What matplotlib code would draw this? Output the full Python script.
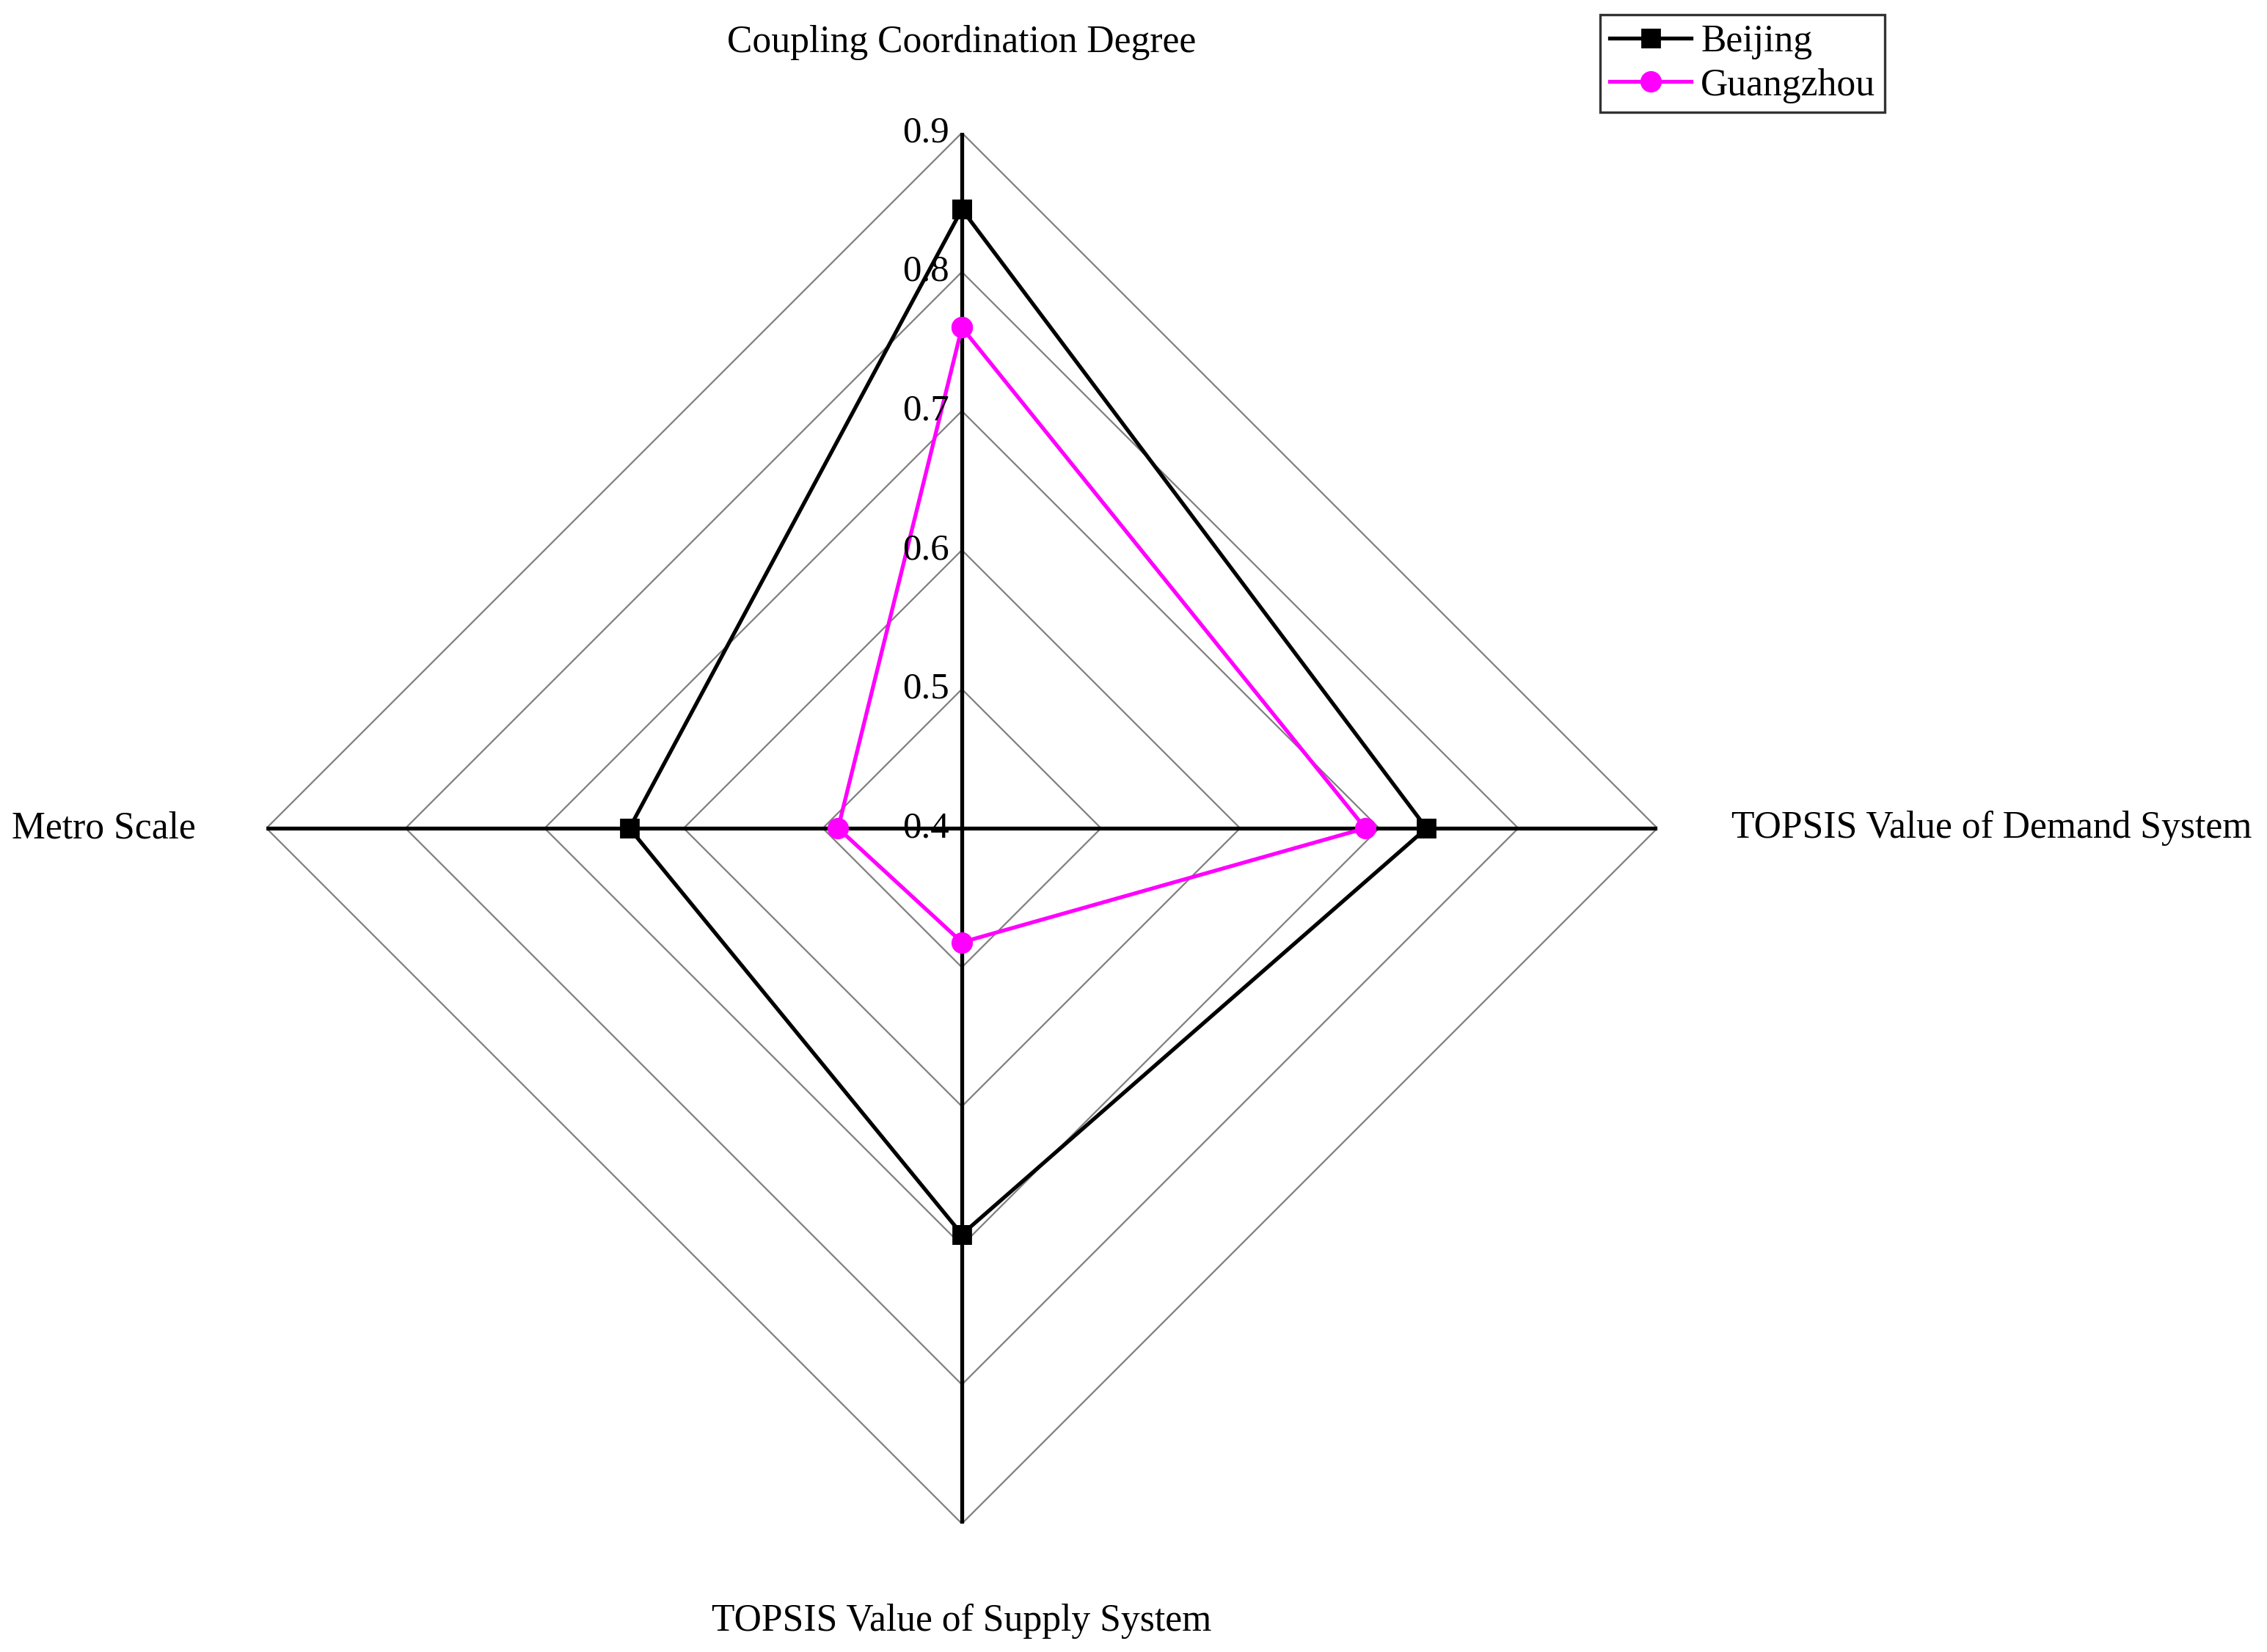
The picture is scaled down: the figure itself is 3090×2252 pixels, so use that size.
import numpy as np
import matplotlib
matplotlib.use('Agg')
import matplotlib.pyplot as plt
from matplotlib.transforms import ScaledTranslation

plt.rcParams['font.family'] = ['Liberation Serif', 'DejaVu Serif']

# data
categories = ['Coupling Coordination Degree', 'TOPSIS Value of Demand System',
              'TOPSIS Value of Supply System', 'Metro Scale']
beijing = [0.845, 0.734, 0.692, 0.639]
guangzhou = [0.760, 0.690, 0.482, 0.489]
levels = [0.5, 0.6, 0.7, 0.8, 0.9]
tick_labels = ['0.4', '0.5', '0.6', '0.7', '0.8', '0.9']
rmin, rmax = 0.4, 0.9

angles = np.arange(len(categories)) * 2 * np.pi / len(categories)
closed = np.append(angles, angles[0])

fig = plt.figure(figsize=(15.45, 11.26), dpi=200)
ax = fig.add_axes([0.1175, 0.0777, 0.6136, 0.8419], projection='polar')
ax.set_theta_zero_location('N')
ax.set_theta_direction(-1)
ax.set_ylim(rmin, rmax)
ax.set_xticks([])
ax.set_yticks([])
ax.grid(False)
ax.spines['polar'].set_visible(False)

# diamond grid
for lv in levels:
    ax.plot(closed, [lv] * len(closed), color='#808080', lw=0.8, zorder=1)

# spokes
for a in angles:
    ax.plot([a, a], [rmin, rmax], color='black', lw=1.9, zorder=2)

ax.plot(closed, beijing + beijing[:1], color='black', lw=1.9, marker='s',
        markersize=8.5, label='Beijing', zorder=4)
ax.plot(closed, guangzhou + guangzhou[:1], color='#FF00FF', lw=1.9, marker='o',
        markersize=9.5, label='Guangzhou', zorder=3)

# radial tick labels along the top spoke, shifted left
off = ScaledTranslation(-49 / 200, 0, fig.dpi_scale_trans)
for i, t in enumerate(tick_labels):
    ax.text(0, rmin + 0.1 * i, t, transform=ax.transData + off, ha='center',
            va='center', fontsize=18.3, zorder=5)

# category labels
fs = 18.6
ax.text(angles[0], 0.965, categories[0], ha='center', va='center', fontsize=fs)
ax.text(angles[1], 0.953, categories[1], ha='left', va='center', fontsize=fs)
ax.text(angles[2], 0.970, categories[2], ha='center', va='center', fontsize=fs)
ax.text(angles[3], 0.951, categories[3], ha='right', va='center', fontsize=fs)

leg = fig.legend(loc='upper right', bbox_to_anchor=(0.8315, 0.991), fontsize=fs,
                 frameon=True, fancybox=False, handlelength=2.15,
                 borderpad=0.25, labelspacing=0.22, handletextpad=0.25,
                 borderaxespad=0)
leg.get_frame().set_edgecolor('black')
leg.get_frame().set_linewidth(1.2)

fig.savefig('out.png', dpi=200)
